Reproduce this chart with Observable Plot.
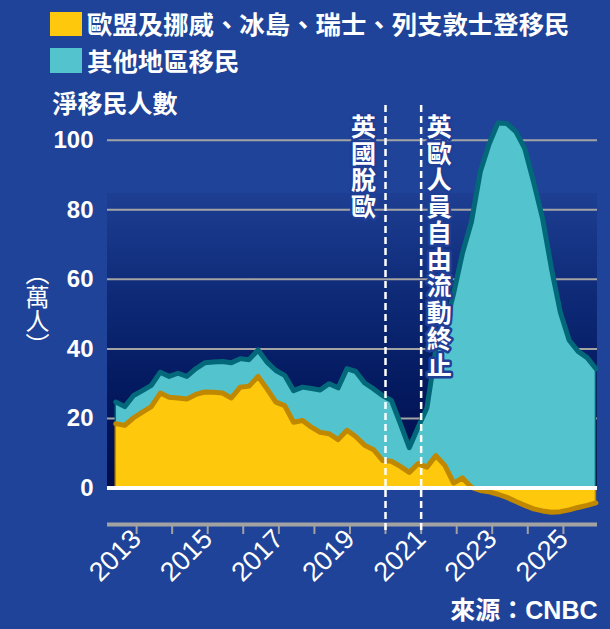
<!DOCTYPE html>
<html><head><meta charset="utf-8">
<script src="https://cdn.jsdelivr.net/npm/d3@7"></script>
<script src="https://cdn.jsdelivr.net/npm/@observablehq/plot@0.6"></script>
<style>
html,body{margin:0;padding:0;background:#1f4398;width:610px;height:629px;overflow:hidden;}
#page{position:relative;width:610px;height:629px;color:#fff;}
.lg{position:absolute;left:50px;display:flex;align-items:center;font-family:"Noto Sans CJK TC",sans-serif;font-weight:700;font-size:25.4px;line-height:1;white-space:nowrap;}
.sw{display:inline-block;width:32px;height:24px;margin-right:5px;}
#chart{position:absolute;left:0;top:86px;}
</style></head><body>
<div id="page"><div id="legend"></div><div id="chart"></div></div>
<script>
const SERIES = ["歐盟及挪威、冰島、瑞士、列支敦士登移民", "其他地區移民"];
const FILLS = ["#fec80c", "#53c4ce"];
const STROKES = ["#bf8800", "#03697a"];
const QUARTERS = ["2012-06","2012-09","2012-12",
 "2013-03","2013-06","2013-09","2013-12","2014-03","2014-06","2014-09","2014-12",
 "2015-03","2015-06","2015-09","2015-12","2016-03","2016-06","2016-09","2016-12",
 "2017-03","2017-06","2017-09","2017-12","2018-03","2018-06","2018-09","2018-12",
 "2019-03","2019-06","2019-09","2019-12","2020-03","2020-06","2020-09","2020-12",
 "2021-03","2021-06","2021-09","2021-12","2022-03","2022-06","2022-09","2022-12",
 "2023-03","2023-06","2023-09","2023-12","2024-03","2024-06","2024-09","2024-12",
 "2025-03","2025-06","2025-09","2025-12"];
const EU_VALUES = [18.5,18.0,20.2,21.8,23.4,27.3,26.1,25.9,25.6,26.9,
 27.6,27.5,27.3,25.9,29.0,29.3,32.1,28.5,24.7,23.7,
 18.9,19.4,17.5,16.0,15.6,13.9,16.6,14.8,12.3,11.0,
 7.9,7.7,6.2,4.5,7.0,6.0,9.3,6.5,1.4,2.9,
 0.2,-0.7,-1.1,-1.8,-2.7,-3.9,-5.0,-6.0,-6.6,-7.0,
 -6.8,-6.3,-5.6,-5.0,-4.3];
const OTHER_VALUES = [6.2,5.4,6.4,6.2,6.1,6.0,6.0,7.1,6.5,7.4,
 8.4,8.7,9.1,10.1,8.2,7.6,7.6,7.7,9.1,8.7,
 9.1,9.6,11.1,12.2,14.4,14.9,17.7,18.7,17.9,17.5,
 18.7,17.5,12.3,7.1,10.5,17.0,30.7,39.5,54.6,64.6,
 76.3,91.0,99.0,105.0,104.8,102.5,97.6,88.0,77.5,63.0,
 50.5,42.5,39.3,37.5,34.3];
const Y_TICKS = [0,20,40,60,80,100];
const GRID_VALUES = [20,40,60,80,100];
const Y_DOMAIN = [-10.5, 110];
const X_DOMAIN = ["2012-03-08","2025-12-17"];
const EVENTS = ["2020-01-01","2021-01-01"];
const EVENT_LABELS = ["英國脫歐","英歐人員自由流動終止"];
const Y_LABEL = "淨移民人數";
const UNIT_LABEL = "（萬人）";
const SOURCE = "來源：CNBC";
const SHADE_TOP = 84.7;
const FONT = "'Liberation Sans','Noto Sans CJK TC',sans-serif";

// legend
const legend = d3.select("#legend");
SERIES.forEach((s, k) => {
  const row = legend.append("div").attr("class","lg").style("top", (k === 0 ? 11 : 48) + "px");
  row.append("span").attr("class","sw").style("background", FILLS[k]).style("height", k === 0 ? "24px" : "25px");
  row.append("span").text(s);
});

const parse = d3.utcParse("%Y-%m");
const data = [];
SERIES.forEach((s, k) => QUARTERS.forEach((q, i) => data.push({
  date: parse(q), series: s, k, value: k === 0 ? EU_VALUES[i] : OTHER_VALUES[i]
})));
const xd = X_DOMAIN.map(d => new Date(d));
const events = EVENTS.map((d, i) => ({date: new Date(d), label: EVENT_LABELS[i]}));
const vert = s => s.split("").join("\n");
const vforms = s => s.replace("（", "︵").replace("）", "︶");

const chart = Plot.plot({
  width: 610, height: 543,
  marginLeft: 107, marginRight: 13, marginTop: 19, marginBottom: 105,
  style: {background: "transparent", color: "#fff", fontFamily: FONT, overflow: "visible"},
  x: {type: "utc", domain: xd},
  y: {domain: Y_DOMAIN},
  color: {type: "identity"},
  marks: [
    Plot.rect([0], {x1: () => xd[0], x2: () => xd[1], y1: () => 0, y2: () => SHADE_TOP, fill: "url(#shade)"}),
    Plot.ruleY(GRID_VALUES, {stroke: "#a4a4a4", strokeWidth: 2}),
    Plot.areaY(data, {x: "date", y: "value", z: "series", fill: d => FILLS[d.k], stroke: d => STROKES[d.k], strokeWidth: 1.5}),
    Plot.lineY(data, Plot.stackY2({x: "date", y: "value", z: "series", stroke: d => STROKES[d.k], strokeWidth: 5, strokeLinejoin: "round", strokeLinecap: "round"})),
    Plot.ruleY([0], {stroke: "#fff", strokeWidth: 4}),
    Plot.ruleY([Y_DOMAIN[0]], {stroke: "#a2a2a2", strokeWidth: 4}),
    Plot.axisX({ticks: d3.utcYears(new Date("2013-01-01"), new Date("2026-01-01")), tickSize: 10, tickPadding: 0, tickRotate: -45,
      tickFormat: d => d.getUTCFullYear() % 2 ? d3.utcFormat("%Y")(d) : "", fontSize: 27, stroke: "#a2a2a2", strokeWidth: 2, fill: "#fff", label: null}),
    Plot.axisY({ticks: Y_TICKS, tickSize: 0, tickPadding: 14, fontSize: 24, fontWeight: "bold", fill: "#fff", label: null}),
    Plot.ruleX(events, {x: "date", stroke: "#fff", strokeWidth: 2.5, strokeDasharray: "7,4", insetBottom: -10}),
    Plot.text([events[0]], {x: "date", text: d => vert(d.label), frameAnchor: "top", lineAnchor: "top", lineHeight: 1.06,
      fontSize: 25, fontWeight: "bold", fill: "#fff", stroke: "#1f3e96", strokeWidth: 5, paintOrder: "stroke", dx: -22, dy: 12}),
    Plot.text([events[1]], {x: "date", text: d => vert(d.label), frameAnchor: "top", lineAnchor: "top", lineHeight: 1.06,
      fontSize: 25, fontWeight: "bold", fill: "#fff", stroke: "#1f3e96", strokeWidth: 5, paintOrder: "stroke", dx: 18, dy: 12}),
    Plot.text([Y_LABEL], {text: d => d, frameAnchor: "top-left", textAnchor: "start", lineAnchor: "middle", dx: -55, dy: -1,
      fontSize: 25, fontWeight: "bold", fill: "#fff"}),
    Plot.text([UNIT_LABEL], {text: d => vforms(d), frameAnchor: "left", textAnchor: "middle", lineAnchor: "middle",
      dx: -70, dy: -13.5, fontSize: 24, fill: "#fff", fontFamily: "Noto Sans CJK TC"}),
    Plot.text([SOURCE], {text: d => d, frameAnchor: "bottom-right", textAnchor: "end", lineAnchor: "middle", dy: 86,
      fontSize: 25, fontWeight: "bold", fill: "#fff"})
  ]
});
document.getElementById("chart").appendChild(chart);
const svg = chart.tagName.toLowerCase() === "svg" ? chart : chart.querySelector("svg");
const defs = d3.select(svg).insert("defs", ":first-child");
const grad = defs.append("linearGradient").attr("id", "shade").attr("x1", 0).attr("y1", 0).attr("x2", 0).attr("y2", 1);
[[0, "#1d3e92"], [0.35, "#0e2a77"], [0.65, "#041a60"], [1, "#000c47"]].forEach(([o, c]) =>
  grad.append("stop").attr("offset", o).attr("stop-color", c));
d3.select(svg).selectAll("text").filter(function() { return /^\d{4}$/.test(this.textContent); })
  .attr("font-size", 27).style("font-size", "27px");
d3.select(svg).selectAll("text").filter(function() { return this.textContent === vforms(UNIT_LABEL); })
  .attr("dy", null).style("writing-mode", "vertical-rl").style("text-orientation", "upright");
</script>
</body></html>
